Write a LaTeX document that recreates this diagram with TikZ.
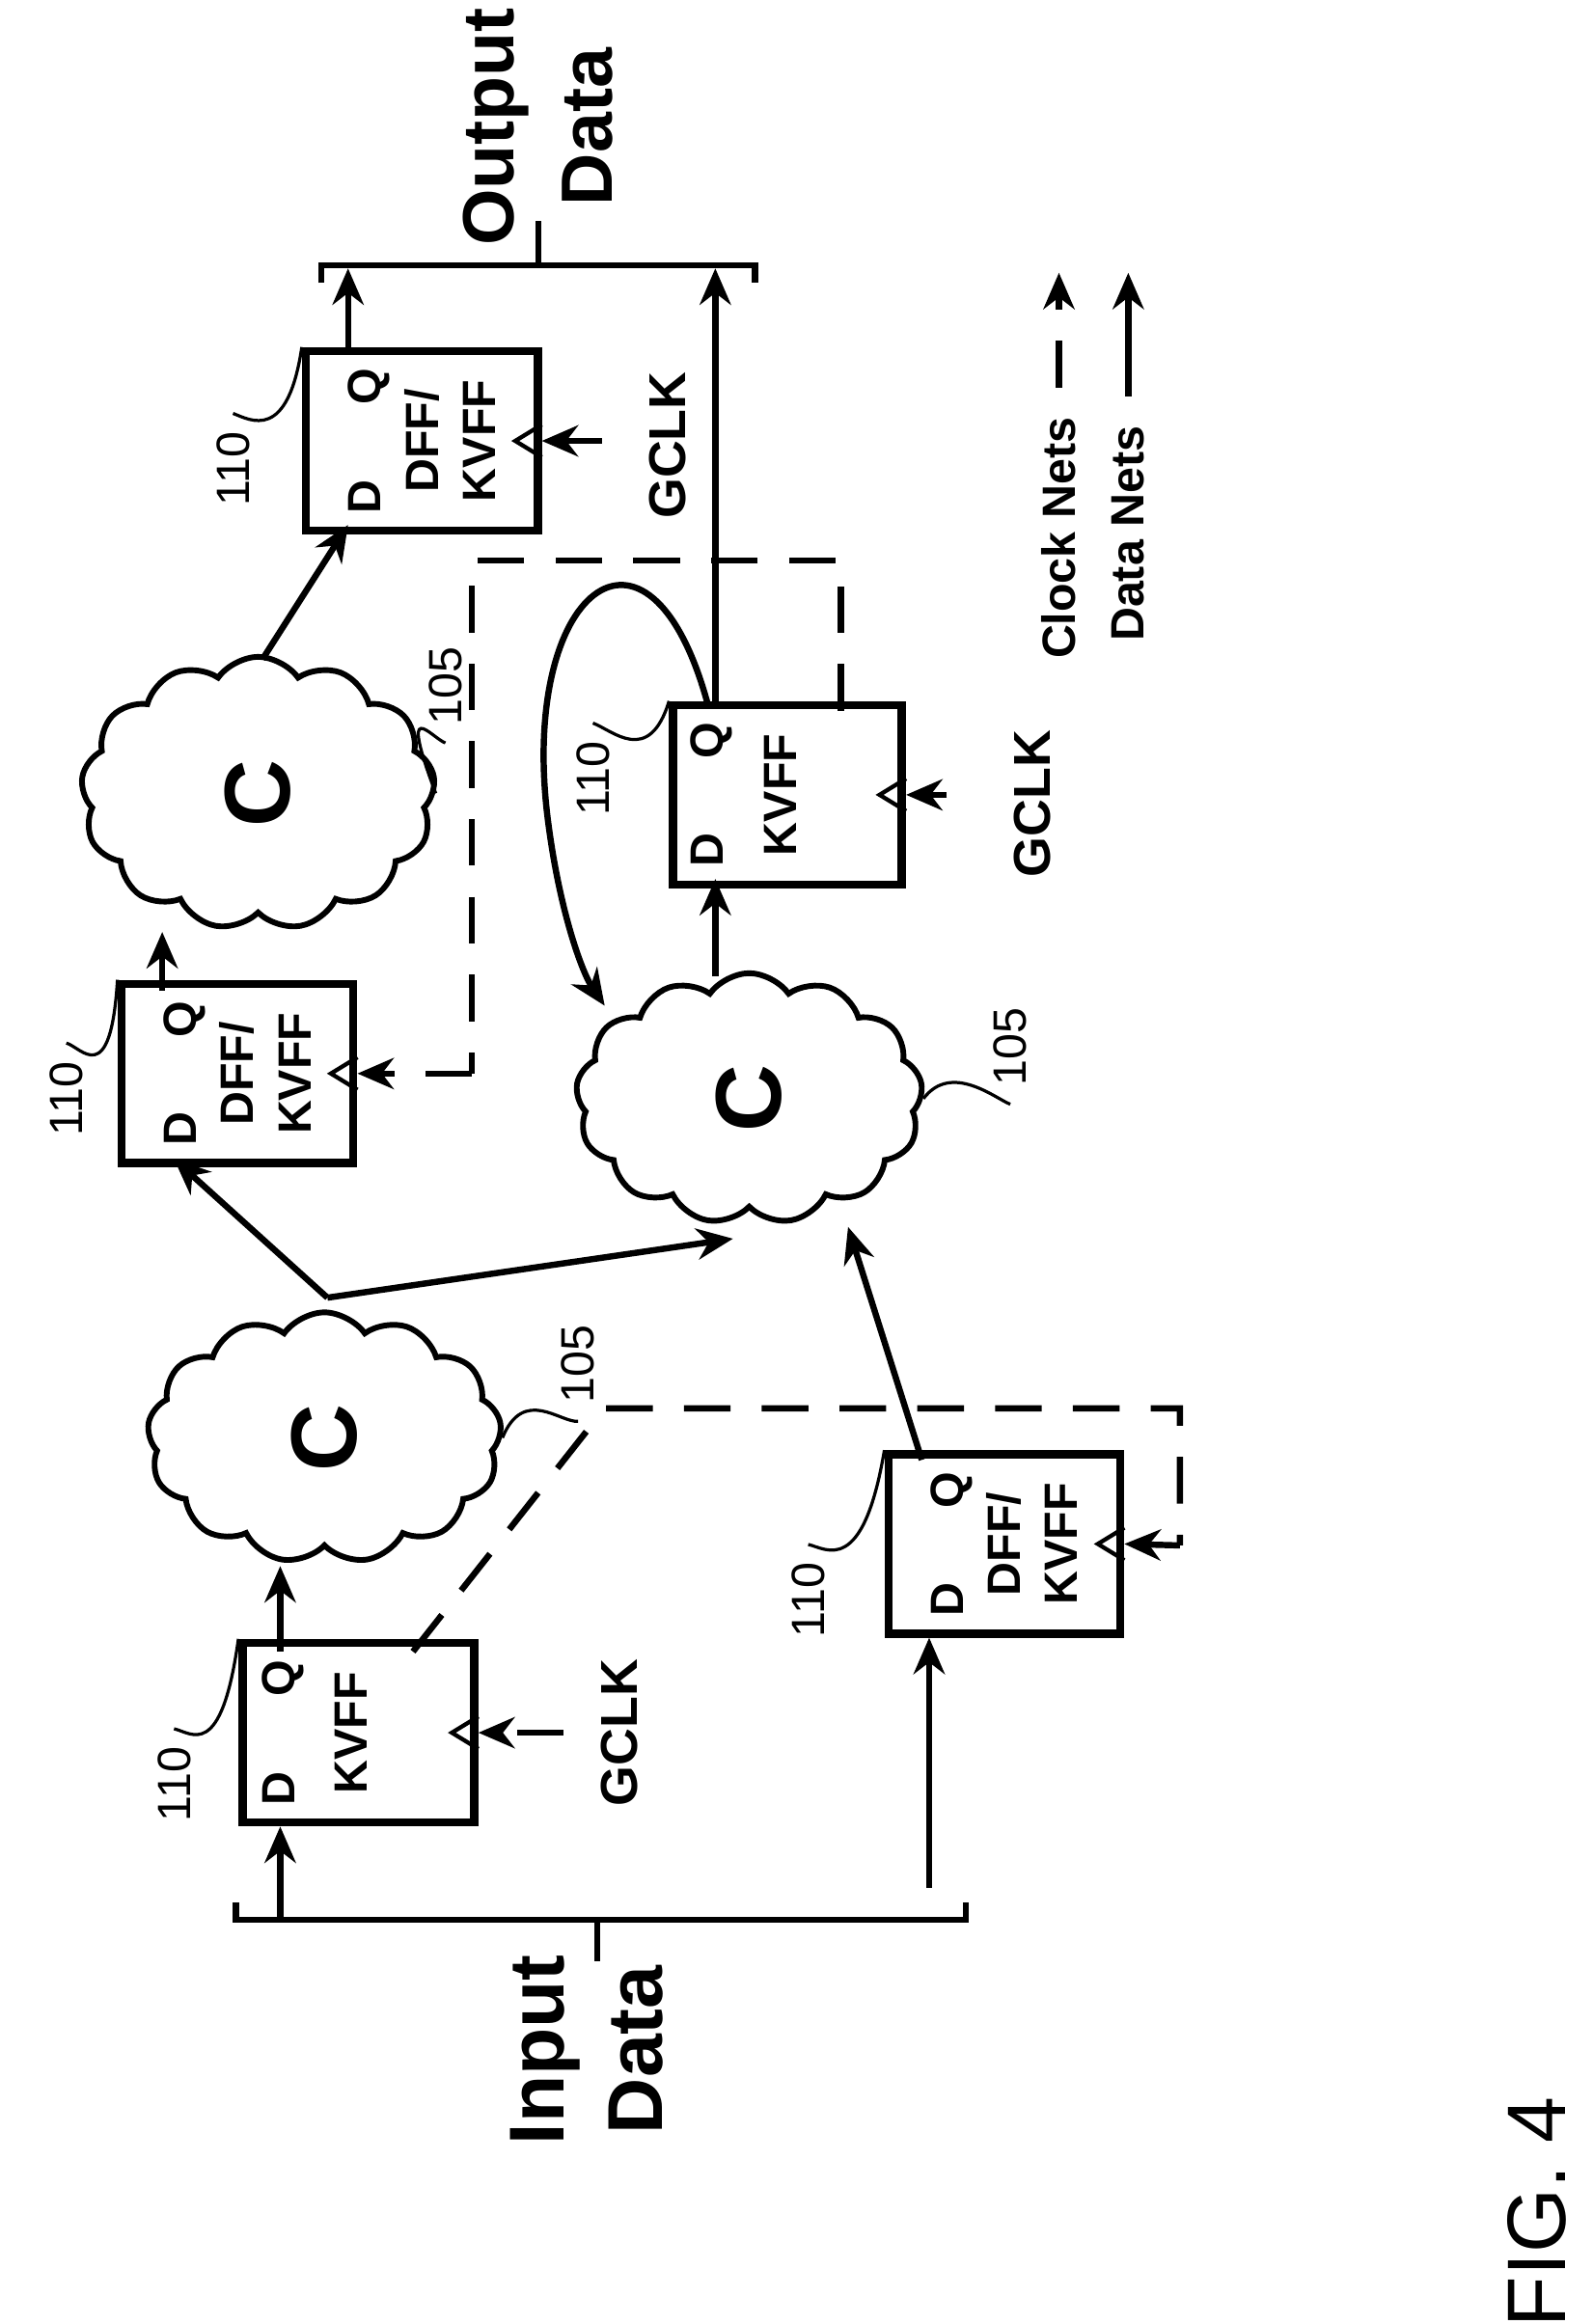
\documentclass[tikz,border=0pt]{standalone}
\usepackage{fontspec}
\setmainfont{Liberation Sans}
\usetikzlibrary{shapes.symbols,arrows.meta,calc}
\tikzset{
  ff/.style={draw, line width=1.6pt, rotate=90, align=center, font=\bfseries\fontsize{9}{11}\selectfont},
  cld/.style={draw, cloud, cloud puffs=13, cloud puff arc=110, line width=1.1pt, font=\bfseries\fontsize{18}{18}\selectfont},
  num/.style={rotate=90, font=\fontsize{9}{9}\selectfont},
  dat/.style={line width=1.2pt, -{Stealth[length=7pt,width=6pt]}},
  clk/.style={line width=1.2pt, dash pattern=on 9pt off 6pt, -{Stealth[length=7pt,width=6pt]}},
  dl/.style={line width=1.2pt, dash pattern=on 9pt off 6pt},
  leader/.style={line width=0.6pt}
}
\newcommand{\clktri}[1]{\draw[line width=0.8pt] ($(#1.south)+(0,-11)$) -- ++(-18,11) -- ++(18,11);}
\begin{document}
\begin{tikzpicture}[x=0.01cm,y=-0.01cm]
\useasboundingbox (0,0) rectangle (1080,1576);
% flip-flops
\node[ff, minimum width=1.10cm, minimum height=1.57cm] (b1) at (243,1175) {D\hspace{1.6em}Q\\[3pt]KVFF\\[6pt]};
\node[ff, minimum width=1.15cm, minimum height=1.57cm] (b2) at (681,1047) {D\hspace{1.6em}Q\\DFF/\\KVFF};
\node[ff, minimum width=1.13cm, minimum height=1.57cm] (b3) at (161,728) {D\hspace{1.6em}Q\\DFF/\\KVFF};
\node[ff, minimum width=1.12cm, minimum height=1.55cm] (b4) at (534,539) {D\hspace{1.6em}Q\\[3pt]KVFF\\[6pt]};
\node[ff, minimum width=1.12cm, minimum height=1.57cm] (b5) at (286,299) {D\hspace{1.6em}Q\\DFF/\\KVFF};
\foreach \b in {b1,b2,b3,b4,b5} {\clktri{\b}}
% clouds
\node[cld, minimum width=2.4cm, minimum height=1.7cm] (c1) at (220,975) {\rotatebox{90}{C}};
\node[cld, minimum width=2.35cm, minimum height=1.7cm] (c2) at (508,745) {\rotatebox{90}{C}};
\node[cld, minimum width=2.4cm, minimum height=1.85cm] (c3) at (175,538) {\rotatebox{90}{C}};
% reference numerals
\node[num] (n1) at (118,1210) {110};
\node[num] (n2) at (548,1085) {110};
\node[num] (n3) at (45,745) {110};
\node[num] (n4) at (402,528) {110};
\node[num] (n5) at (158,318) {110};
\node[num] (r1) at (392,925) {105};
\node[num] (r2) at (685,710) {105};
\node[num] (r3) at (302,465) {105};
\draw[leader] (n1.east) .. controls (130,1175) and (150,1195) .. (b1.north east);
\draw[leader] (n2.east) .. controls (560,1050) and (585,1070) .. (b2.north east);
\draw[leader] (n3.east) .. controls (55,710) and (75,740) .. (b3.north east);
\draw[leader] (n4.east) .. controls (415,495) and (440,520) .. (b4.north east);
\draw[leader] (n5.east) .. controls (170,285) and (195,300) .. (b5.north east);
\draw[leader] (r1.west) .. controls (380,965) and (355,940) .. (c1.east);
\draw[leader] (r2.west) .. controls (675,745) and (645,720) .. (c2.east);
\draw[leader] (r3.west) .. controls (292,500) and (270,470) .. (c3.east);
% input bracket
\draw[line width=1.2pt] (160,1290) -- (160,1302) -- (655,1302) -- (655,1290);
\draw[line width=1.2pt] (405,1302) -- (405,1330);
\node[rotate=90, align=center, font=\bfseries\fontsize{15}{19}\selectfont] (in) at (398,1390) {Input\\Data};
\coordinate (i1) at (190,1302); \coordinate (i2) at (630,1280);
\draw[dat] (i1) -- (i1 |- b1.west);
\draw[dat] (i2) -- (i2 |- b2.west);
% output bracket
\draw[line width=1.2pt] (218,192) -- (218,180) -- (512,180) -- (512,192);
\draw[line width=1.2pt] (365,180) -- (365,150);
\node[rotate=90, align=center, font=\bfseries\fontsize{14}{19}\selectfont] (out) at (365,86) {Output\\Data};
\coordinate (o1) at (236,182); \coordinate (o2) at (485,182);
\draw[dat] (o1 |- b5.east) -- (o1);
\draw[dat] (o2 |- b4.east) -- (o2);
% data nets
\coordinate (c1t) at (222,880);
\draw[dat] (190,1120) -- (190,1062);
\draw[dat] (c1t) -- (118,786);
\draw[dat] (c1t) -- (497,840);
\draw[dat] (625,990) -- (575,832);
\draw[dat] (110,672) -- (110,632);
\draw[dat] (178,447) -- (236,356);
\draw[dat] (485,662) -- (485,596);
\draw[dat] (480,478) .. controls (440,330) and (350,400) .. (372,560) .. controls (380,620) and (395,660) .. (410,682);
% clock nets
\draw[dl] (280,1120) -- (410,955) -- (800,955) -- (800,1048);
\draw[clk] (800,1048) -- (b2.south);
\draw[dl] (570,482) -- (570,380) -- (320,380) -- (320,728);
\draw[clk] (320,728) -- (b3.south);
\draw[clk] (382,1175) -- (b1.south);
\draw[clk] (642,539) -- (b4.south);
\draw[clk] (408,299) -- (b5.south);
\node[rotate=90, font=\bfseries\fontsize{10}{10}\selectfont] (g1) at (420,1175) {GCLK};
\node[rotate=90, font=\bfseries\fontsize{10}{10}\selectfont] (g2) at (700,545) {GCLK};
\node[rotate=90, font=\bfseries\fontsize{10}{10}\selectfont] (g3) at (453,302) {GCLK};
% legend
\node[rotate=90, font=\bfseries\fontsize{9}{9}\selectfont] (lc) at (718,365) {Clock Nets};
\node[rotate=90, font=\bfseries\fontsize{9}{9}\selectfont] (ld) at (765,362) {Data Nets};
\draw[clk] (lc.east) ++(0,-8) -- (718,185);
\draw[dat] (ld.east) ++(0,-8) -- (765,185);
\node[rotate=90, font=\fontsize{16}{16}\selectfont] (fig) at (1042,1500) {FIG. 4};
\end{tikzpicture}
\end{document}
